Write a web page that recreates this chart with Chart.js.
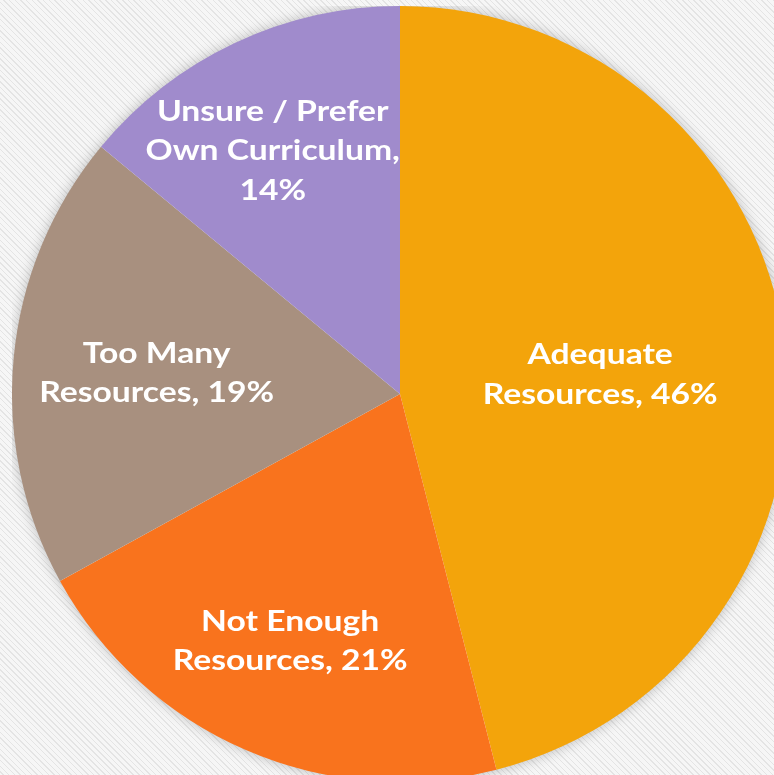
<!DOCTYPE html>
<html>
<head>
<meta charset="utf-8">
<script src="https://cdn.jsdelivr.net/npm/chart.js@4/dist/chart.umd.min.js"></script>
<style>
  html, body {
    margin: 0;
    padding: 0;
    width: 774px;
    height: 775px;
    overflow: hidden;
    background-color: #f1f1f1;
    background-image: repeating-linear-gradient(45deg, #f6f6f6 0px, #f6f6f6 2px, #e4e4e4 2px, #e4e4e4 3px, #f6f6f6 3px, #f6f6f6 4px);
  }
  #wrap {
    position: absolute;
    left: 12px;
    top: 6px;
    width: 776px;
    height: 776px;
  }
</style>
</head>
<body>
<div id="wrap"><canvas id="pie" width="776" height="776"></canvas></div>
<script>
let labels = [['Adequate', 'Resources, 46%'], ['Not Enough', 'Resources, 21%'], ['Too Many', 'Resources, 19%'], ['Unsure / Prefer', 'Own Curriculum,', '14%']]
let values = [46, 21, 19, 14]
let colours = ['#f3a40b', '#f9731d', '#a8907f', '#a08bcc']

// how far out along each slice's middle the label sits (fraction of radius), plus small nudges
let labelRadius = [0.52, 0.70, 0.63, 0.71]
let labelNudge = [[0, 6], [-2, -2], [0, 2], [-10, 6]]

let pieShadow = {
  id: 'pieShadow',
  beforeDatasetsDraw(chart) {
    let arc = chart.getDatasetMeta(0).data[0]
    if (!arc) return
    let ctx = chart.ctx
    ctx.save()
    ctx.shadowColor = 'rgba(0, 0, 0, 0.28)'
    ctx.shadowBlur = 14
    ctx.fillStyle = '#ffffff'
    ctx.beginPath()
    ctx.arc(arc.x, arc.y, arc.outerRadius - 1, 0, Math.PI * 2)
    ctx.fill()
    ctx.restore()
  },
}

let sliceLabels = {
  id: 'sliceLabels',
  afterDatasetsDraw(chart) {
    let ctx = chart.ctx
    let stretch = 1.16 // the original face is a wide geometric one
    chart.getDatasetMeta(0).data.forEach((arc, i) => {
      let mid = (arc.startAngle + arc.endAngle) / 2
      let r = arc.outerRadius * labelRadius[i]
      let x = arc.x + Math.cos(mid) * r + labelNudge[i][0]
      let y = arc.y + Math.sin(mid) * r + labelNudge[i][1]
      let lines = labels[i]
      let lh = 39.5
      let y0 = y - (lines.length - 1) * lh / 2
      ctx.save()
      ctx.translate(x, 0)
      ctx.scale(stretch, 1)
      ctx.fillStyle = '#ffffff'
      ctx.font = 'bold 29px Lato, "Open Sans", sans-serif'
      ctx.textAlign = 'center'
      ctx.textBaseline = 'middle'
      lines.forEach((line, j) => ctx.fillText(line, 0, y0 + j * lh))
      ctx.restore()
    })
  },
}

new Chart(document.getElementById('pie'), {
  type: 'pie',
  data: {
    labels: labels.map(l => l.join(' ')),
    datasets: [{
      data: values,
      backgroundColor: colours,
      borderWidth: 0,
    }],
  },
  options: {
    responsive: false,
    animation: false,
    layout: {padding: 0},
    plugins: {
      legend: {display: false},
      tooltip: {enabled: false},
    },
  },
  plugins: [pieShadow, sliceLabels],
})
</script>
</body>
</html>
